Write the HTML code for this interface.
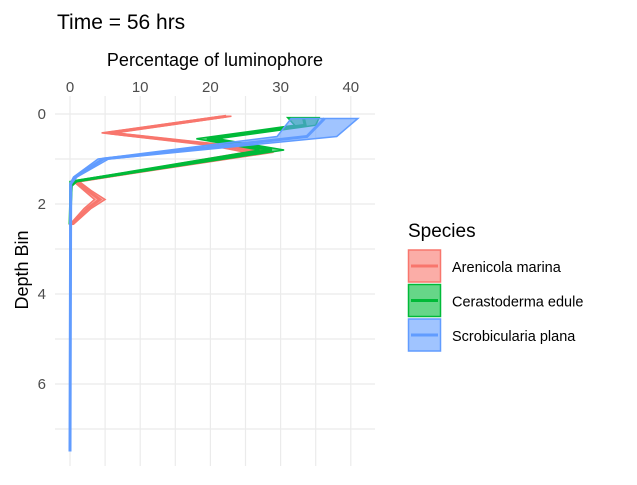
<!DOCTYPE html>
<html><head><meta charset="utf-8"><style>
body{margin:0;background:#fff;}
svg text{font-family:"Liberation Sans",Arial,sans-serif;}
</style></head><body>
<svg id="chart" width="637" height="480" xmlns="http://www.w3.org/2000/svg">
<text x="57" y="29" font-size="21" fill="#000">Time = 56 hrs</text>
<text x="215" y="66" font-size="18" text-anchor="middle" fill="#000">Percentage of luminophore</text>
<text x="28" y="270" font-size="18" text-anchor="middle" fill="#000" transform="rotate(-90 28 270)">Depth Bin</text>
<g id="grid"></g>
<g id="series"></g>
<g id="ticks"></g>
<text x="408" y="237" font-size="19" fill="#000">Species</text>
<g id="legend"></g>
</svg>
<script>
const xTicks=[0,10,20,30,40];
const yTicks=[0,2,4,6];
const species=["Arenicola marina","Cerastoderma edule","Scrobicularia plana"];
const colors=["#F8766D","#00BA38","#619CFF"];
const redDepth=[0.05,0.42,0.7,0.85,1.5,1.7,1.9,2.1,2.45];
const redLo=[21.5,4.5,20,25,0.5,2,3.5,2,0];
const redHi=[23,6.5,23,29,1.3,3,5,3,0.5];
const greenDepth=[0.08,0.25,0.55,0.8,1.5,1.6,2.45];
const greenLo=[31,32,18,27,0,0,0];
const greenHi=[35.5,35,21,30.5,1,0.3,0];
const blueDepth=[0.1,0.5,1.0,1.4,1.55,7.5];
const blueLo=[31.5,29.5,4,0.5,0,0];
const blueHi=[41,38,5.5,1,0.2,0];
const X=v=>70+v*7.02;
const Y=d=>114+d*45;
const NS="http://www.w3.org/2000/svg";
const mk=(t,a,p)=>{const e=document.createElementNS(NS,t);for(const k in a)e.setAttribute(k,a[k]);p.appendChild(e);return e;};
const grid=document.getElementById('grid');
for(let v=-5;v<=45;v+=5){const x=X(v);if(x<55||x>375)continue;
 const l=mk('line',{x1:x,x2:x,y1:96,y2:466,stroke:'#ebebeb','stroke-width':1.2},grid);
 }
for(let d=0;d<=8;d+=1){const y=Y(d);if(y<96||y>466)continue;
 const l=mk('line',{x1:55,x2:375,y1:y,y2:y,stroke:'#ebebeb','stroke-width':1.2},grid);
 }
const ticks=document.getElementById('ticks');
xTicks.forEach(v=>{const t=mk('text',{x:X(v),y:92,'font-size':15,'text-anchor':'middle',fill:'#4d4d4d'},ticks);t.textContent=v;
 });
yTicks.forEach(d=>{const t=mk('text',{x:46,y:Y(d)+5,'font-size':15,'text-anchor':'end',fill:'#4d4d4d'},ticks);t.textContent=d;
 });
const ser=document.getElementById('series');
const all=[[redDepth,redLo,redHi],[greenDepth,greenLo,greenHi],[blueDepth,blueLo,blueHi]];
all.forEach(([dep,lo,hi],i)=>{
 let pts=dep.map((d,j)=>X(hi[j])+','+Y(d)).concat(dep.map((d,j)=>X(lo[j])+','+Y(d)).reverse());
 const p=mk('polygon',{points:pts.join(' '),fill:colors[i],'fill-opacity':0.6,stroke:colors[i],'stroke-width':1.5},ser);
 
 const lp=dep.map((d,j)=>X((lo[j]+hi[j])/2)+','+Y(d)).join(' ');
 const l=mk('polyline',{points:lp,fill:'none',stroke:colors[i],'stroke-width':3},ser);
 
});
const leg=document.getElementById('legend');
species.forEach((s,i)=>{const y=250+i*34.5;
 const g=mk('g',{},leg);
 mk('rect',{x:408.5,y:y,width:32,height:32,fill:colors[i],'fill-opacity':0.6,stroke:colors[i],'stroke-width':1.5},g);
 mk('line',{x1:411,x2:438,y1:y+16,y2:y+16,stroke:colors[i],'stroke-width':3},g);
 const t=mk('text',{x:452,y:y+22,'font-size':14.5,fill:'#000'},g);t.textContent=s;});
</script>
</body></html>
